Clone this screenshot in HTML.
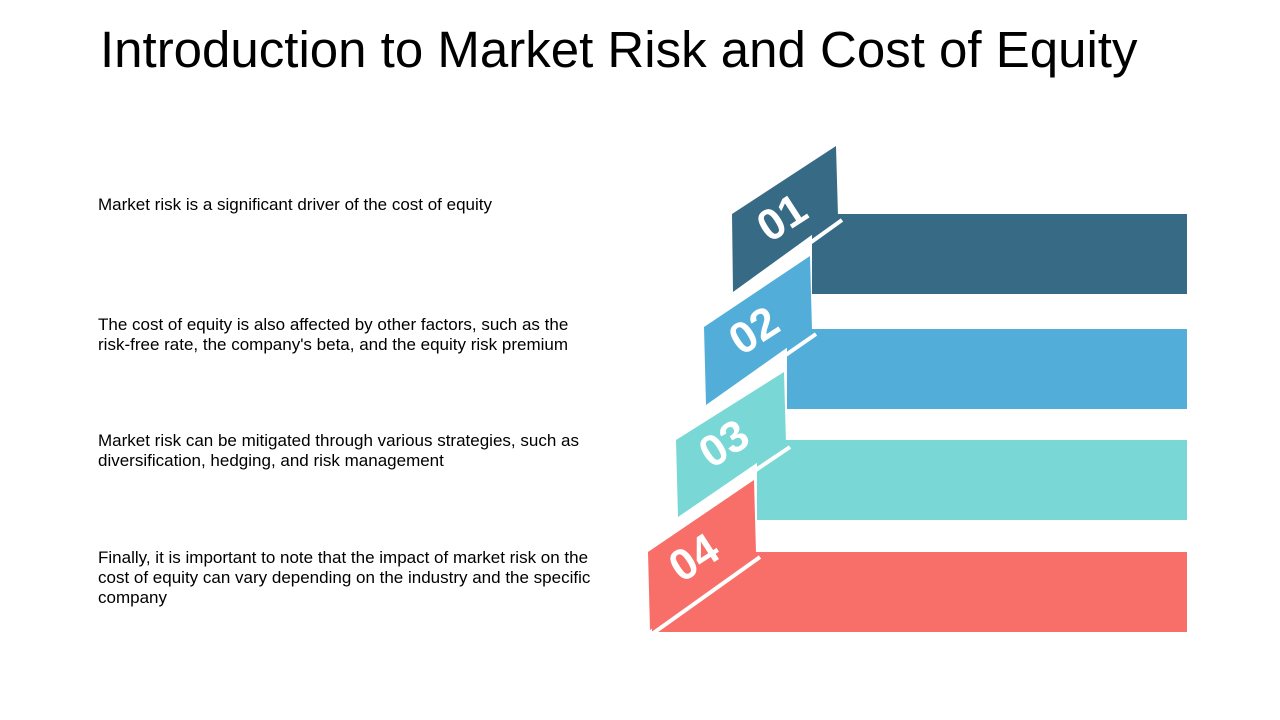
<!DOCTYPE html>
<html><head><meta charset="utf-8"><style>
body{margin:0;width:1280px;height:720px;background:#fff;overflow:hidden;position:relative;font-family:"Liberation Sans",sans-serif}
h1{position:absolute;left:100px;top:20px;margin:0;font-weight:normal;font-size:51px;color:#000;white-space:nowrap}
.t{position:absolute;left:98px;font-size:17px;line-height:20px;color:#000;width:560px;white-space:nowrap}
svg{position:absolute;left:0;top:0}
</style></head><body>
<h1>Introduction to Market Risk and Cost of Equity</h1>
<div class="t" style="top:195px">Market risk is a significant driver of the cost of equity</div>
<div class="t" style="top:315px">The cost of equity is also affected by other factors, such as the<br>risk-free rate, the company's beta, and the equity risk premium</div>
<div class="t" style="top:431px">Market risk can be mitigated through various strategies, such as<br>diversification, hedging, and risk management</div>
<div class="t" style="top:548px">Finally, it is important to note that the impact of market risk on the<br>cost of equity can vary depending on the industry and the specific<br>company</div>
<svg width="1280" height="720">
<g>
<rect x="812" y="214" width="375" height="80" fill="#376a85"/>
<rect x="787" y="329" width="400" height="80" fill="#52aed9"/>
<rect x="757" y="440" width="430" height="80" fill="#79d7d5"/>
<rect x="652" y="552" width="535" height="80" fill="#f76f68"/>
</g>
<g>
<polygon points="732,214 836,146 838,216 733,292" fill="#376a85"/>
<line x1="736" y1="296" x2="842" y2="220" stroke="#fff" stroke-width="4"/>
<text transform="translate(790,230) rotate(-33)" fill="#fff" font-size="44" font-weight="bold" text-anchor="middle">01</text>
</g>
<g>
<polygon points="704,327 810,256 812,330 706,405" fill="#52aed9"/>
<line x1="708" y1="409" x2="816" y2="334" stroke="#fff" stroke-width="4"/>
<text transform="translate(762,343) rotate(-33)" fill="#fff" font-size="44" font-weight="bold" text-anchor="middle">02</text>
</g>
<g>
<polygon points="676,440 784,372 786,443 678,517" fill="#79d7d5"/>
<line x1="680" y1="521" x2="790" y2="447" stroke="#fff" stroke-width="4"/>
<text transform="translate(732,456) rotate(-33)" fill="#fff" font-size="44" font-weight="bold" text-anchor="middle">03</text>
</g>
<g>
<polygon points="648,552 754,480 756,553 650,630" fill="#f76f68"/>
<line x1="652" y1="634" x2="760" y2="557" stroke="#fff" stroke-width="4"/>
<text transform="translate(702,570) rotate(-33)" fill="#fff" font-size="44" font-weight="bold" text-anchor="middle">04</text>
</g>
</svg>
</body></html>
